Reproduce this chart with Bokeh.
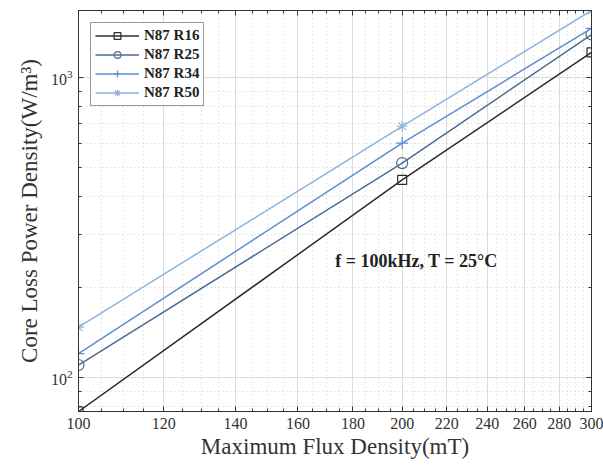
from bokeh.plotting import figure
from bokeh.models import (FixedTicker, LogAxis, Range1d, Legend, LegendItem, Label,
                          CustomJSTickFormatter)
from bokeh.embed import file_html
from bokeh.resources import INLINE

flux = [100, 200, 300]
r16 = [77, 455, 1211]
r25 = [110, 518, 1389]
r34 = [120, 604, 1455]
r50 = [147, 687, 1670]
series_names = ["N87 R16", "N87 R25", "N87 R34", "N87 R50"]
x_ticks = [100, 120, 140, 160, 180, 200, 220, 240, 260, 280, 300]
y_ticks = [100, 1000]

colors = ["#2b2b2b", "#4a6b93", "#5b8ed0", "#8db3de"]
markers = ["square", "circle", "cross", "asterisk"]
msizes = [9, 11, 12, 11]

SERIF = "Liberation Serif"

p = figure(width=603, height=466, x_axis_type="log", y_axis_type="log",
           output_backend="svg", toolbar_location=None,
           x_range=Range1d(100, 300), y_range=Range1d(77, 1670),
           min_border_left=78, min_border_right=12, min_border_top=10,
           min_border_bottom=55)
p.outline_line_color = "#333333"
p.outline_line_width = 1
p.background_fill_color = "white"

x_minor = [v for v in range(100, 301, 5) if v not in x_ticks]
y_minor = [80, 90] + [k * 100 for k in range(2, 10)]

items = []
data = [r16, r25, r34, r50]
for name, ys, c, m, s in zip(series_names, data, colors, markers, msizes):
    ln = p.line(flux, ys, line_color=c, line_width=1.5)
    sc = p.scatter(flux, ys, marker=m, size=s, line_color=c, fill_color=None,
                   line_width=1.2)
    items.append(LegendItem(label=name, renderers=[ln, sc]))

xt = FixedTicker(ticks=x_ticks, minor_ticks=x_minor)
yt = FixedTicker(ticks=y_ticks, minor_ticks=y_minor)

bottom = p.xaxis[0]
left = p.yaxis[0]
bottom.ticker = xt
left.ticker = yt

blank = CustomJSTickFormatter(code="return ''")
top = LogAxis(ticker=xt, formatter=blank, major_label_standoff=0)
right = LogAxis(ticker=yt, formatter=blank, major_label_standoff=0)
p.add_layout(top, "above")
p.add_layout(right, "right")

for ax in [bottom, left, top, right]:
    ax.axis_line_color = "#333333"
    ax.major_tick_in = 5
    ax.major_tick_out = 0
    ax.minor_tick_in = 3
    ax.minor_tick_out = 0
    ax.major_tick_line_color = "#333333"
    ax.minor_tick_line_color = "#333333"

for ax in [bottom, left]:
    ax.major_label_text_font = SERIF
    ax.major_label_text_font_size = "16px"
    ax.major_label_text_color = "#333333"
    ax.axis_label_text_font = SERIF
    ax.axis_label_text_font_size = "23px"
    ax.axis_label_text_font_style = "normal"
    ax.axis_label_text_color = "#333333"

bottom.axis_label = "Maximum Flux Density(mT)"
left.axis_label = "Core Loss Power Density(W/m³)"
bottom.axis_label_standoff = 2
left.axis_label_standoff = 6
bottom.major_label_standoff = 6
left.major_label_standoff = 6

for g, t in [(p.xgrid[0], xt), (p.ygrid[0], yt)]:
    g.ticker = t
    g.grid_line_color = "#dcdcdc"
    g.grid_line_width = 1
    g.minor_grid_line_color = "#cfcfcf"
    g.minor_grid_line_dash = "1 3"

legend = Legend(items=items, location="top_left")
legend.label_text_font = SERIF
legend.label_text_font_size = "15px"
legend.label_text_font_style = "bold"
legend.label_text_color = "#222222"
legend.border_line_color = "#333333"
legend.border_line_width = 1
legend.glyph_width = 44
legend.glyph_height = 17
legend.label_height = 17
legend.spacing = 2
legend.padding = 4
legend.margin = 12
legend.label_standoff = 5
p.add_layout(legend)

p.add_layout(Label(x=200, y=245, text="f = 100kHz, T = 25°C",
                   x_units="data", y_units="data",
                   x_offset=-67, text_font=SERIF, text_font_size="18px",
                   text_font_style="bold", text_color="#222222",
                   text_baseline="middle"))

open("out.html", "w").write(file_html(p, INLINE))
